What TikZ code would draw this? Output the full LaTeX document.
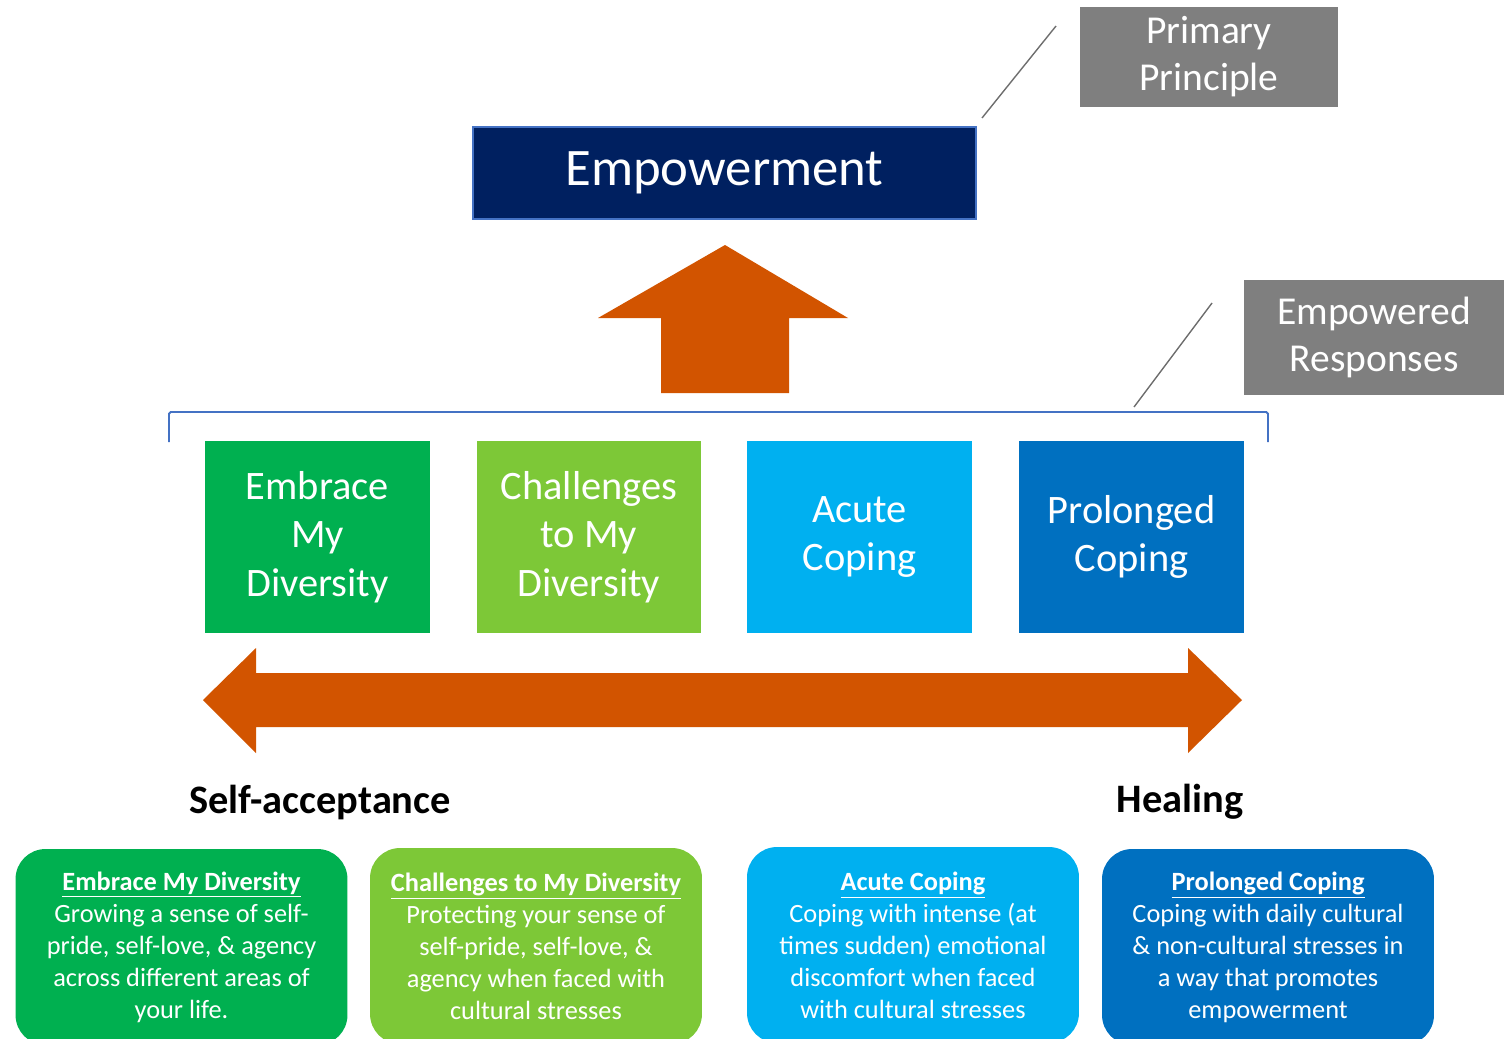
\documentclass[tikz,border=0pt]{standalone}
\usepackage{fontspec}
\setmainfont{Carlito}
\usepackage{tikz}
\usetikzlibrary{positioning}
\definecolor{EmpNavy}{RGB}{0,32,96}
\definecolor{EmpEdge}{RGB}{68,114,196}
\definecolor{TagGray}{RGB}{127,127,127}
\definecolor{LeaderGray}{RGB}{110,110,110}
\definecolor{ArrowOrange}{RGB}{210,84,0}
\definecolor{DivGreen}{RGB}{0,176,80}
\definecolor{ChalGreen}{RGB}{125,200,55}
\definecolor{AcuteBlue}{RGB}{0,176,240}
\definecolor{ProBlue}{RGB}{0,112,192}

\begin{document}
\begin{tikzpicture}[x=0.02cm, y=-0.02cm,
                % Boxes
                topnode/.style={draw=EmpEdge, line width=0.7pt, fill=EmpNavy, text=white, font=\fontsize{30}{36}\selectfont, minimum width=10.06cm, minimum height=1.84cm, inner sep=0pt},
                tagnode/.style={fill=TagGray, text=white, font=\fontsize{22.5}{26.7}\selectfont, align=center, inner sep=0pt},
                stepnode/.style={text=white, font=\fontsize{23}{27.6}\selectfont, align=center, minimum width=4.5cm, minimum height=3.84cm, inner sep=0pt},
                descnode/.style={rounded corners=0.6cm, text=white, font=\fontsize{15}{18.2}\selectfont, align=center, minimum width=6.64cm, minimum height=3.92cm, inner sep=0pt},
                % Labels under the arrow
                endlabel/.style={text=black, font=\bfseries\fontsize{23}{27}\selectfont},
                % Lines
                leader/.style={draw=LeaderGray, line width=0.8pt},
                bracket/.style={draw=EmpEdge, line width=1.1pt, rounded corners=1pt},
                blockarrow/.style={fill=ArrowOrange}
            ]
                \useasboundingbox (0,0) rectangle (1504,1038);
                \clip (0,0) rectangle (1504,1038);

                % --- TOP ---
                \node[topnode] (emp) at (724.5,173) {Empowerment};
                \node[tagnode, minimum width=5.16cm, minimum height=2.0cm] (primary) at (1209,57) {Primary\\Principle};
                \node[tagnode, minimum width=5.2cm, minimum height=2.3cm] (responses) at (1374,337.5) {Empowered\\Responses};

                % leader lines to the tags
                \coordinate (lp1) at (982,118);
                \coordinate (lp2) at (1056,26);
                \coordinate (lr1) at (1134,407);
                \coordinate (lr2) at (1212,303);
                \draw[leader] (lp1) -- (lp2);
                \draw[leader] (lr1) -- (lr2);

                % up arrow
                \fill[blockarrow] (725,245) -- (848,318) -- (789,318) -- (789,393)
                    -- (661,393) -- (661,318) -- (598,318) -- cycle;

                % --- RESPONSES ---
                \coordinate (bl) at (169,442);
                \coordinate (br) at (1268,442);
                \draw[bracket] (bl) -- (169,412) -- (1268,412) -- (br);

                \node[stepnode, fill=DivGreen] (embrace) at (317.5,537) {Embrace\\My\\Diversity};
                \node[stepnode, fill=ChalGreen] (challenges) at (589,537) {Challenges\\to My\\Diversity};
                \node[stepnode, fill=AcuteBlue] (acute) at (859.5,537) {Acute\\Coping};
                \node[stepnode, fill=ProBlue] (prolonged) at (1131.5,537) {Prolonged\\Coping};

                % double arrow
                \fill[blockarrow] (203,700) -- (256,648) -- (256,673) -- (1188,673) -- (1188,648)
                    -- (1242,700) -- (1188,753) -- (1188,727) -- (256,727) -- (256,753) -- cycle;

                \node[endlabel] (selfacc) at (320,802) {Self-acceptance};
                \node[endlabel] (healing) at (1180,802) {Healing};

                % --- DESCRIPTIONS ---
                \node[descnode, fill=DivGreen] (descA) at (181.5,947) {\underline{\textbf{Embrace My Diversity}}\\Growing a sense of self-\\pride, self-love, \& agency\\across different areas of\\your life.};
                \node[descnode, fill=ChalGreen] (descB) at (536,946) {\underline{\textbf{Challenges to My Diversity}}\\Protecting your sense of\\self-pride, self-love, \&\\agency when faced with\\cultural stresses};
                \node[descnode, fill=AcuteBlue] (descC) at (913,945) {\underline{\textbf{Acute Coping}}\\Coping with intense (at\\times sudden) emotional\\discomfort when faced\\with cultural stresses};
                \node[descnode, fill=ProBlue] (descD) at (1268,947) {\underline{\textbf{Prolonged Coping}}\\Coping with daily cultural\\\& non-cultural stresses in\\a way that promotes\\empowerment};

            \end{tikzpicture}
\end{document}
